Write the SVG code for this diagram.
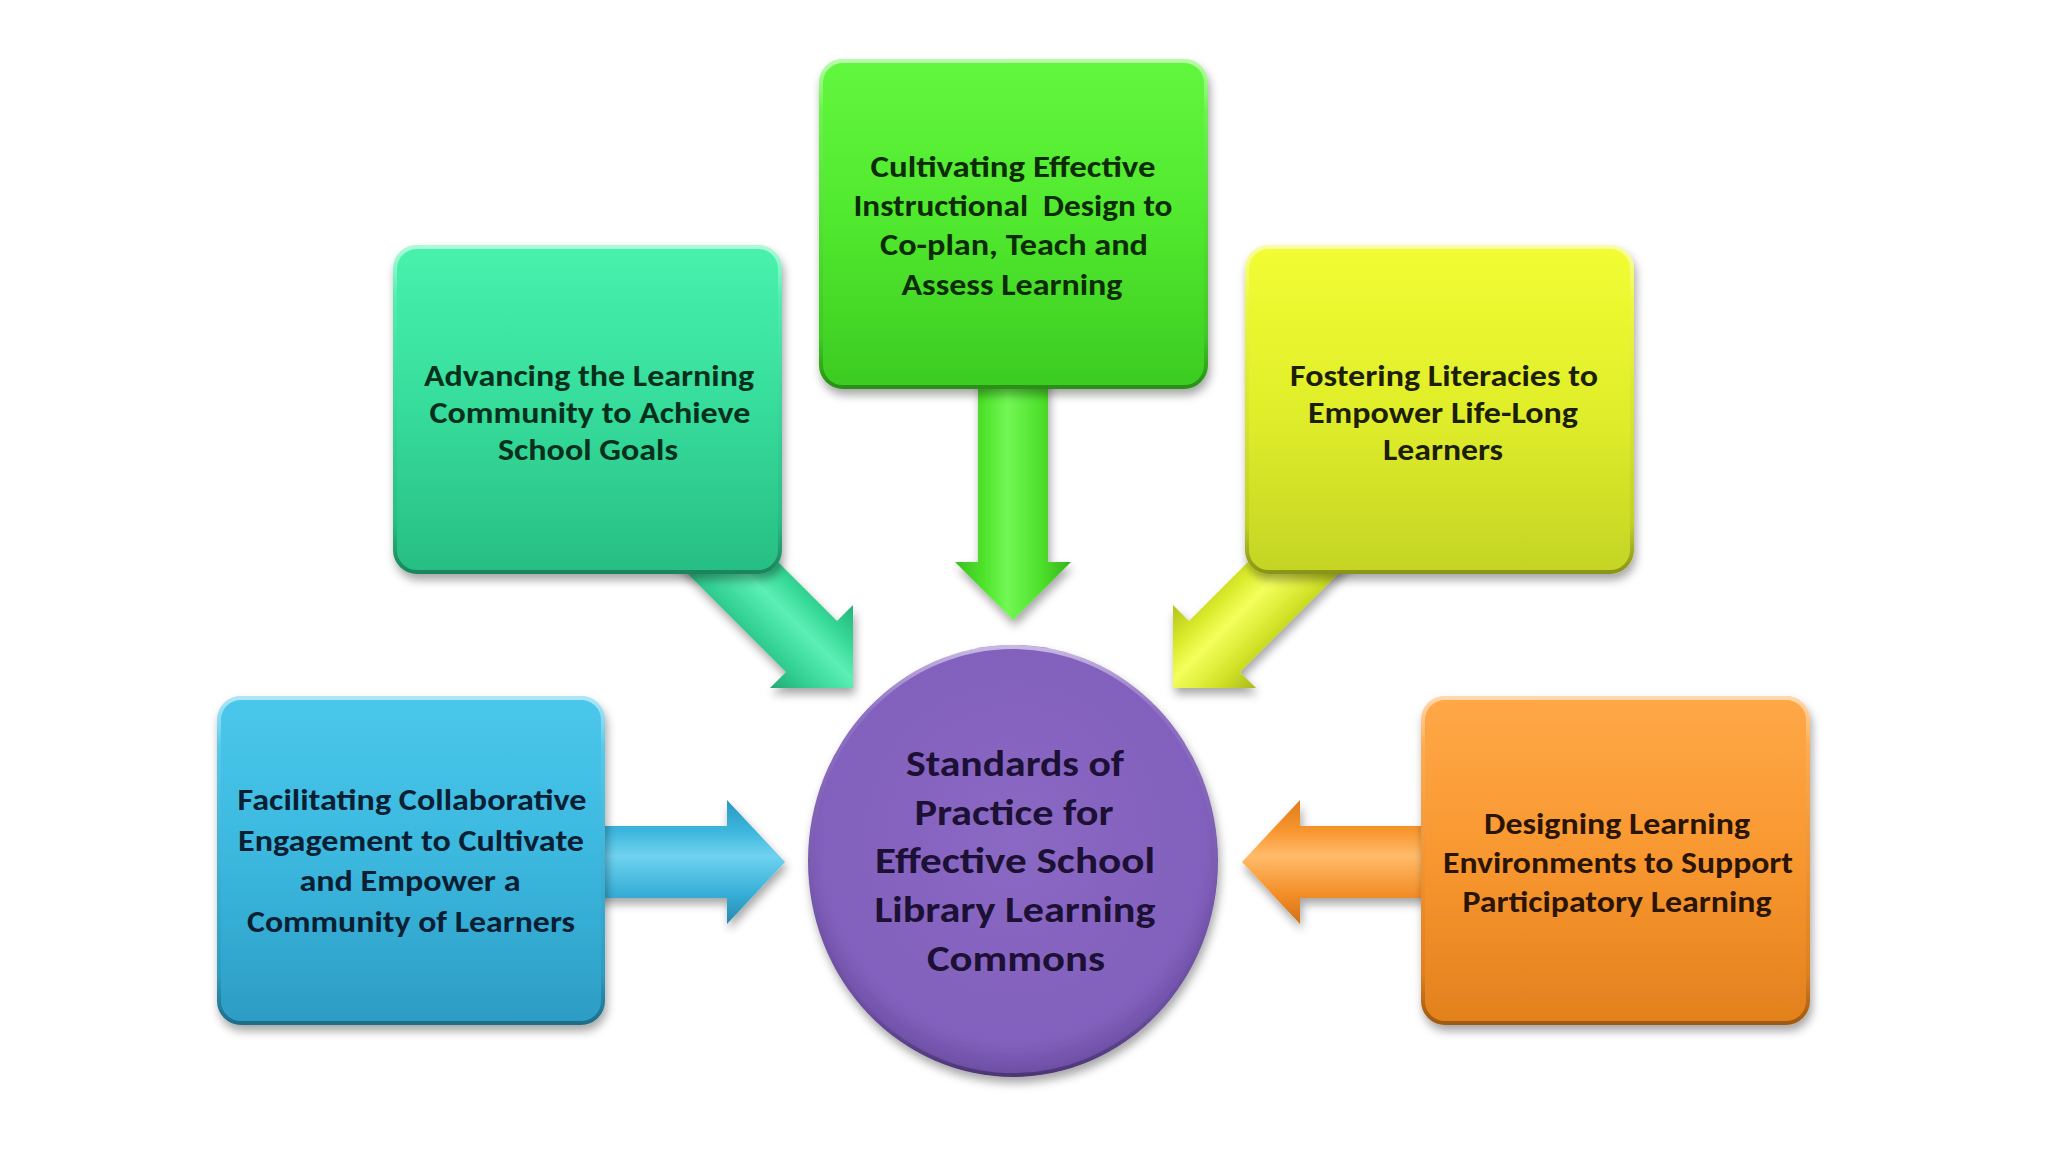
<svg xmlns="http://www.w3.org/2000/svg" width="2048" height="1152" viewBox="0 0 2048 1152">
  <style>
    .lbl { font-family: 'Carlito', 'Liberation Sans', Arial, sans-serif; font-weight: bold; font-size: 30px; text-anchor: middle; }
    .ctr { font-family: 'Carlito', 'Liberation Sans', Arial, sans-serif; font-weight: bold; font-size: 36px; text-anchor: middle; fill: #1c1035; }
    .bevel { fill: none; stroke: url(#bevelStroke); stroke-width: 4; }
    .box { filter: url(#shadow); }
  </style>
  <defs>
    <filter id="shadow" x="-10%" y="-10%" width="125%" height="130%">
      <feDropShadow dx="2" dy="6" stdDeviation="5" flood-color="#000000" flood-opacity="0.35"/>
    </filter>
    <linearGradient id="bevelStroke" x1="0" y1="0" x2="0" y2="1">
      <stop offset="0" stop-color="#ffffff" stop-opacity="0.55"/>
      <stop offset="0.15" stop-color="#ffffff" stop-opacity="0.1"/>
      <stop offset="0.85" stop-color="#000000" stop-opacity="0.05"/>
      <stop offset="1" stop-color="#000000" stop-opacity="0.3"/>
    </linearGradient>
    <linearGradient id="gTeal" x1="0" y1="0" x2="0" y2="1">
      <stop offset="0" stop-color="#48f2ad"/>
      <stop offset="0.5" stop-color="#36dc9b"/>
      <stop offset="1" stop-color="#27bd83"/>
    </linearGradient>
    <linearGradient id="gGreen" x1="0" y1="0" x2="0" y2="1">
      <stop offset="0" stop-color="#62f73e"/>
      <stop offset="0.5" stop-color="#50e82e"/>
      <stop offset="1" stop-color="#3ccb22"/>
    </linearGradient>
    <linearGradient id="gYellow" x1="0" y1="0" x2="0" y2="1">
      <stop offset="0" stop-color="#f2fd32"/>
      <stop offset="0.5" stop-color="#e0ee2b"/>
      <stop offset="1" stop-color="#c4d424"/>
    </linearGradient>
    <linearGradient id="gBlue" x1="0" y1="0" x2="0" y2="1">
      <stop offset="0" stop-color="#4bc8ec"/>
      <stop offset="0.5" stop-color="#3bb7de"/>
      <stop offset="1" stop-color="#2c9cc4"/>
    </linearGradient>
    <linearGradient id="gOrange" x1="0" y1="0" x2="0" y2="1">
      <stop offset="0" stop-color="#ffa848"/>
      <stop offset="0.5" stop-color="#f8972f"/>
      <stop offset="1" stop-color="#e2801d"/>
    </linearGradient>
    <radialGradient id="gPurple" cx="0.5" cy="0.45" r="0.55">
      <stop offset="0" stop-color="#8a68c3"/>
      <stop offset="0.85" stop-color="#8261bd"/>
      <stop offset="1" stop-color="#6b4da3"/>
    </radialGradient>
    <!-- arrow gradients -->
    <linearGradient id="aGreen" gradientUnits="userSpaceOnUse" x1="955" y1="0" x2="1071" y2="0">
      <stop offset="0" stop-color="#3cc020"/>
      <stop offset="0.25" stop-color="#4fe32c"/>
      <stop offset="0.45" stop-color="#72f855"/>
      <stop offset="0.75" stop-color="#4ddf2a"/>
      <stop offset="1" stop-color="#37b31d"/>
    </linearGradient>
    <linearGradient id="aBlue" gradientUnits="userSpaceOnUse" x1="0" y1="800" x2="0" y2="924">
      <stop offset="0" stop-color="#2a98c0"/>
      <stop offset="0.25" stop-color="#3cb6dd"/>
      <stop offset="0.45" stop-color="#70d2f0"/>
      <stop offset="0.75" stop-color="#38b0d8"/>
      <stop offset="1" stop-color="#2788ae"/>
    </linearGradient>
    <linearGradient id="aOrange" gradientUnits="userSpaceOnUse" x1="0" y1="800" x2="0" y2="924">
      <stop offset="0" stop-color="#de7c1a"/>
      <stop offset="0.25" stop-color="#f8962f"/>
      <stop offset="0.45" stop-color="#ffbb6a"/>
      <stop offset="0.75" stop-color="#f4902a"/>
      <stop offset="1" stop-color="#d17015"/>
    </linearGradient>
    <linearGradient id="aTeal" gradientUnits="userSpaceOnUse" x1="853" y1="605" x2="770" y2="688">
      <stop offset="0" stop-color="#24b27b"/>
      <stop offset="0.25" stop-color="#36d897"/>
      <stop offset="0.45" stop-color="#5cf0b5"/>
      <stop offset="0.75" stop-color="#33d193"/>
      <stop offset="1" stop-color="#22a874"/>
    </linearGradient>
    <linearGradient id="aYellow" gradientUnits="userSpaceOnUse" x1="1173" y1="605" x2="1256" y2="688">
      <stop offset="0" stop-color="#b2c21f"/>
      <stop offset="0.25" stop-color="#d9ea2a"/>
      <stop offset="0.45" stop-color="#f4ff5c"/>
      <stop offset="0.75" stop-color="#d2e228"/>
      <stop offset="1" stop-color="#a9b81c"/>
    </linearGradient>
  </defs>

  <rect x="0" y="0" width="2048" height="1152" fill="#ffffff"/>

  <g id="connectors">
    <polygon id="arrow-advancing" points="701,485 837,621 853,605 853,688 770,688 786,672 650,536" fill="url(#aTeal)" filter="url(#shadow)"/>
    <polygon id="arrow-cultivating" points="978,360 1048,360 1048,562 1071,562 1013,620 955,562 978,562" fill="url(#aGreen)" filter="url(#shadow)"/>
    <polygon id="arrow-fostering" points="1325,485 1189,621 1173,605 1173,688 1256,688 1240,672 1376,536" fill="url(#aYellow)" filter="url(#shadow)"/>
    <polygon id="arrow-facilitating" points="580,826 727,826 727,800 785,862 727,924 727,898 580,898" fill="url(#aBlue)" filter="url(#shadow)"/>
    <polygon id="arrow-designing" points="1445,826 1300,826 1300,800 1242,862 1300,924 1300,898 1445,898" fill="url(#aOrange)" filter="url(#shadow)"/>
  </g>

  <g id="node-advancing">
    <rect class="box" x="393" y="245" width="389" height="329" rx="24" fill="url(#gTeal)"/>
    <rect class="bevel" x="395" y="247" width="385" height="325" rx="22"/>
    <g class="lbl" fill="#07301c">
      <text x="589" y="386" textLength="330" lengthAdjust="spacingAndGlyphs">Advancing the Learning</text>
      <text x="590" y="423" textLength="321" lengthAdjust="spacingAndGlyphs">Community to Achieve</text>
      <text x="588" y="460" textLength="180" lengthAdjust="spacingAndGlyphs">School Goals</text>
    </g>
  </g>

  <g id="node-cultivating">
    <rect class="box" x="819" y="59" width="389" height="330" rx="24" fill="url(#gGreen)"/>
    <rect class="bevel" x="821" y="61" width="385" height="326" rx="22"/>
    <g class="lbl" fill="#0b2c05">
      <text x="1013" y="177" textLength="285" lengthAdjust="spacingAndGlyphs">Cultivating Effective</text>
      <text x="1013" y="216" textLength="319" lengthAdjust="spacingAndGlyphs" style="white-space:pre">Instructional  Design to</text>
      <text x="1014" y="255" textLength="268" lengthAdjust="spacingAndGlyphs">Co-plan, Teach and</text>
      <text x="1012" y="295" textLength="221" lengthAdjust="spacingAndGlyphs">Assess Learning</text>
    </g>
  </g>

  <g id="node-fostering">
    <rect class="box" x="1245" y="245" width="389" height="329" rx="24" fill="url(#gYellow)"/>
    <rect class="bevel" x="1247" y="247" width="385" height="325" rx="22"/>
    <g class="lbl" fill="#1c1e05">
      <text x="1444" y="386" textLength="308" lengthAdjust="spacingAndGlyphs">Fostering Literacies to</text>
      <text x="1443" y="423" textLength="270" lengthAdjust="spacingAndGlyphs">Empower Life-Long</text>
      <text x="1443" y="460" textLength="120" lengthAdjust="spacingAndGlyphs">Learners</text>
    </g>
  </g>

  <g id="node-facilitating">
    <rect class="box" x="217" y="696" width="388" height="329" rx="24" fill="url(#gBlue)"/>
    <rect class="bevel" x="219" y="698" width="384" height="325" rx="22"/>
    <g class="lbl" fill="#0a1f33">
      <text x="412" y="810" textLength="349" lengthAdjust="spacingAndGlyphs">Facilitating Collaborative</text>
      <text x="411" y="851" textLength="346" lengthAdjust="spacingAndGlyphs">Engagement to Cultivate</text>
      <text x="410" y="891" textLength="221" lengthAdjust="spacingAndGlyphs">and Empower a</text>
      <text x="411" y="932" textLength="328" lengthAdjust="spacingAndGlyphs">Community of Learners</text>
    </g>
  </g>

  <g id="node-designing">
    <rect class="box" x="1421" y="696" width="389" height="329" rx="24" fill="url(#gOrange)"/>
    <rect class="bevel" x="1423" y="698" width="385" height="325" rx="22"/>
    <g class="lbl" fill="#2a1404">
      <text x="1617" y="834" textLength="266" lengthAdjust="spacingAndGlyphs">Designing Learning</text>
      <text x="1618" y="873" textLength="350" lengthAdjust="spacingAndGlyphs">Environments to Support</text>
      <text x="1617" y="912" textLength="309" lengthAdjust="spacingAndGlyphs">Participatory Learning</text>
    </g>
  </g>

  <g id="node-standards">
    <ellipse cx="1013" cy="861" rx="205" ry="216" fill="url(#gPurple)" filter="url(#shadow)"/>
    <ellipse cx="1013" cy="861" rx="203" ry="214" fill="none" stroke="url(#bevelStroke)" stroke-width="4"/>
    <text class="ctr" x="1015" y="776" textLength="218" lengthAdjust="spacingAndGlyphs">Standards of</text>
    <text class="ctr" x="1014" y="825" textLength="199" lengthAdjust="spacingAndGlyphs">Practice for</text>
    <text class="ctr" x="1015" y="873" textLength="280" lengthAdjust="spacingAndGlyphs">Effective School</text>
    <text class="ctr" x="1015" y="922" textLength="281" lengthAdjust="spacingAndGlyphs">Library Learning</text>
    <text class="ctr" x="1016" y="971" textLength="178" lengthAdjust="spacingAndGlyphs">Commons</text>
  </g>
</svg>
